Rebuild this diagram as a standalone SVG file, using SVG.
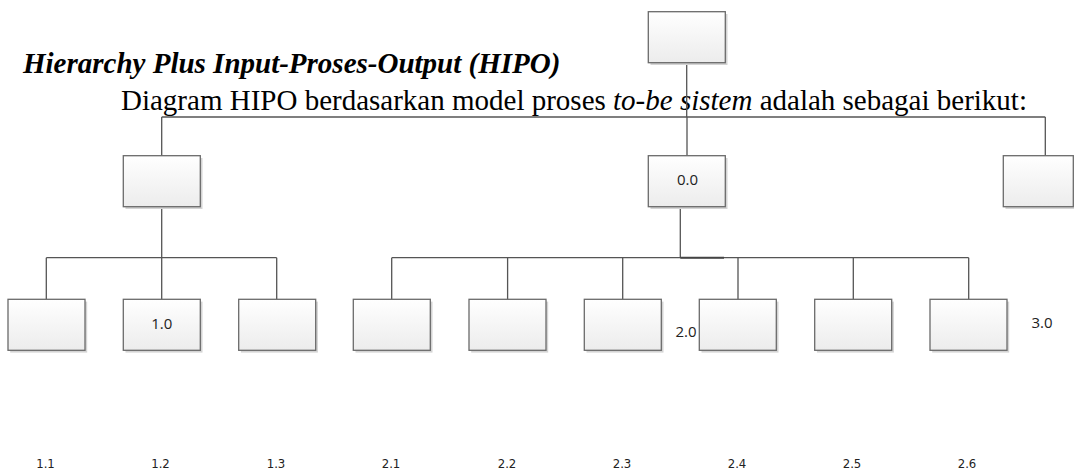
<svg xmlns="http://www.w3.org/2000/svg" width="1074" height="475" viewBox="0 0 1074 475">
<defs>
<linearGradient id="g" x1="0" y1="0" x2="0" y2="1">
<stop offset="0" stop-color="#ffffff"/>
<stop offset="1" stop-color="#ececec"/>
</linearGradient>
<style>
.box{fill:url(#g);stroke:#6a6a6a;stroke-width:1.3}
.sh{fill:#d4d4d4}
.c{fill:none;stroke:#555;stroke-width:1.3}
.lbl{font-family:"Open Sans","Noto Sans",sans-serif;font-size:15px;fill:#222;text-anchor:middle}
.num{font-family:"DejaVu Sans Condensed","DejaVu Sans",sans-serif;font-stretch:condensed;font-size:13px;fill:#222;text-anchor:middle}
.t{font-family:"Liberation Serif","Times New Roman",serif;font-size:29px;fill:#000}
</style>
</defs>
<rect width="1074" height="475" fill="#fff"/>
<text class="t" x="23" y="73" font-weight="bold" font-style="italic">Hierarchy Plus Input-Proses-Output (HIPO)</text>
<text class="t" x="121" y="110">Diagram HIPO berdasarkan model proses <tspan font-style="italic">to-be sistem</tspan> adalah sebagai berikut:</text>
<g id="connectors">
<path class="c" d="M686.7 62.7V117M161.7 117H1045.3M161.7 117V155.7M687 117V155.7M1045.3 117V155.7"/>
<path class="c" d="M161.7 206.7V257.7M46.3 257.7H276.7M46.3 257.7V299.3M161.7 257.7V299.3M276.7 257.7V299.3"/>
<path class="c" d="M680.3 206.7V257.7M391.7 257.7H968.7M391.7 257.7V299.3M507.6 257.7V299.3M622.7 257.7V299.3M738 257.7V299.3M853.3 257.7V299.3M968.7 257.7V299.3"/>
<path d="M661 206.7H680.3M680.3 257.7H724" fill="none" stroke="#444" stroke-width="2"/>
</g>
<g id="n-top"><rect class="sh" x="650.5" y="14" width="77" height="51"/><rect class="box" x="648.3" y="11.7" width="77" height="51"/></g>
<g id="n-1"><rect class="sh" x="125.5" y="158" width="77" height="51"/><rect class="box" x="123.3" y="155.7" width="77" height="51"/></g>
<g id="n-0"><rect class="sh" x="650.5" y="158" width="77" height="51"/><rect class="box" x="648.3" y="155.7" width="77" height="51"/><text class="lbl" x="687.5" y="184.5">0.0</text></g>
<g id="n-3"><rect class="sh" x="1005.5" y="158" width="70" height="51"/><rect class="box" x="1003.3" y="155.7" width="70" height="51"/></g>
<g id="n-1-1"><rect class="sh" x="10.2" y="301.6" width="77" height="51"/><rect class="box" x="8" y="299.3" width="77" height="51"/></g>
<g id="n-1-2"><rect class="sh" x="125.5" y="301.6" width="77" height="51"/><rect class="box" x="123.3" y="299.3" width="77" height="51"/><text class="lbl" x="161.7" y="329">1.0</text></g>
<g id="n-1-3"><rect class="sh" x="240.9" y="301.6" width="77" height="51"/><rect class="box" x="238.7" y="299.3" width="77" height="51"/></g>
<g id="n-2-1"><rect class="sh" x="355.5" y="301.6" width="77" height="51"/><rect class="box" x="353.3" y="299.3" width="77" height="51"/></g>
<g id="n-2-2"><rect class="sh" x="471.2" y="301.6" width="77" height="51"/><rect class="box" x="469" y="299.3" width="77" height="51"/></g>
<g id="n-2-3"><rect class="sh" x="586.5" y="301.6" width="77" height="51"/><rect class="box" x="584.3" y="299.3" width="77" height="51"/></g>
<g id="n-2-4"><rect class="sh" x="701.5" y="301.6" width="77" height="51"/><rect class="box" x="699.3" y="299.3" width="77" height="51"/></g>
<g id="n-2-5"><rect class="sh" x="816.9" y="301.6" width="77" height="51"/><rect class="box" x="814.7" y="299.3" width="77" height="51"/></g>
<g id="n-2-6"><rect class="sh" x="932.2" y="301.6" width="77" height="51"/><rect class="box" x="930" y="299.3" width="77" height="51"/></g>
<g id="labels">
<text class="lbl" x="686" y="337">2.0</text>
<text class="lbl" x="1042" y="328">3.0</text>
<text class="num" x="45.5" y="468">1.1</text>
<text class="num" x="160.5" y="468">1.2</text>
<text class="num" x="276" y="468">1.3</text>
<text class="num" x="391" y="468">2.1</text>
<text class="num" x="507" y="468">2.2</text>
<text class="num" x="622" y="468">2.3</text>
<text class="num" x="737" y="468">2.4</text>
<text class="num" x="852" y="468">2.5</text>
<text class="num" x="967" y="468">2.6</text>
</g>
</svg>
